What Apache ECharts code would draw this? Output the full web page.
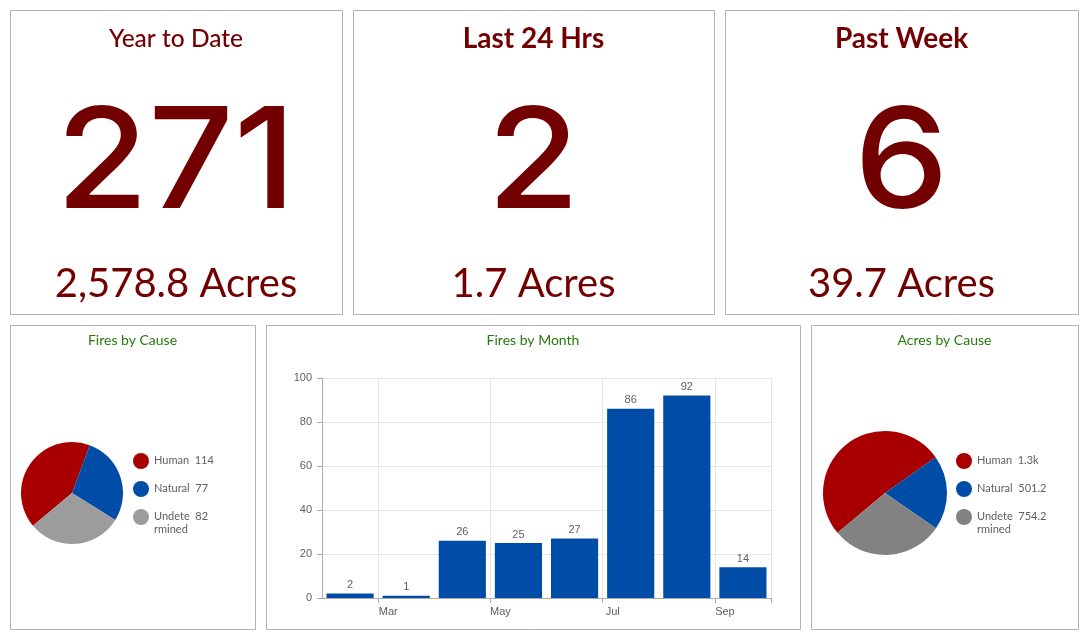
<!DOCTYPE html>
<html><head><meta charset="utf-8">
<script src="https://cdn.jsdelivr.net/npm/echarts@6/dist/echarts.min.js"></script>
<style>html,body{margin:0;padding:0;background:#fff;}#c{width:1088px;height:639px;}</style>
</head><body><div id="c"></div>
<script>
// ---- data ----
const kpiTitles = ['Year to Date', 'Last 24 Hrs', 'Past Week'];
const kpiFires = [271, 2, 6];
const kpiAcres = [2578.8, 1.7, 39.7];
const causeNames = ['Human', 'Natural', 'Undetermined'];
const firesByCause = [114, 77, 82];
const acresByCause = [1323.4, 501.2, 754.2];
const months = ['Feb', 'Mar', 'Apr', 'May', 'Jun', 'Jul', 'Aug', 'Sep'];
const firesByMonth = [2, 1, 26, 25, 27, 86, 92, 14];
const chartTitles = ['Fires by Cause', 'Fires by Month', 'Acres by Cause'];

// ---- styles / layout ----
const RED = '#730000', GREEN = '#267a0c';
const FONT = 'Lato, "Open Sans", sans-serif';
const NUMFONT = 'Inter, Lato, sans-serif';
const AXFONT = '"Liberation Sans", Arial, sans-serif';
const TXT = '#5e5e66';
const panels = [[10,10,332,304],[353,10,361,304],[725,10,353,304],[10,325,245,304],[266,325,534,304],[811,325,267,304]];
const leftColors = ['#a80000', '#004da8', '#9c9c9c'];
const rightColors = ['#a80000', '#004da8', '#828282'];
const kpiTitleSize = [24.5, 28, 28];
const kpiTitleWeight = [500, 700, 700];

const chart = echarts.init(document.getElementById('c'), null, {renderer: 'canvas'});

const graphics = [];
panels.forEach(p => graphics.push({type: 'rect', z: -10, silent: true,
  shape: {x: p[0] + 0.5, y: p[1] + 0.5, width: p[2], height: p[3]},
  style: {fill: '#fff', stroke: '#b4b4b4', lineWidth: 1}}));
for (let i = 0; i < 3; i++) {
  const p = panels[i];
  const cx = p[0] + p[2] / 2;
  graphics.push({type: 'text', silent: true, style: {text: kpiTitles[i], x: cx, y: 39, align: 'center', verticalAlign: 'middle',
    fill: RED, fontFamily: FONT, fontSize: kpiTitleSize[i], fontWeight: kpiTitleWeight[i]}});
  graphics.push({type: 'text', silent: true, x: cx, y: 166, scaleX: 1.07,
    style: {text: String(kpiFires[i]), x: 0, y: 0, align: 'center', verticalAlign: 'middle',
    fill: RED, fontFamily: NUMFONT, fontSize: 140, fontWeight: 500}});
  graphics.push({type: 'text', silent: true, style: {text: kpiAcres[i].toLocaleString('en-US', {minimumFractionDigits: 1, maximumFractionDigits: 1}) + ' Acres',
    x: cx, y: 284, align: 'center', verticalAlign: 'middle', fill: RED, fontFamily: FONT, fontSize: 40, fontWeight: 400}});
}

function wrapName(n) { return n.length > 8 ? [n.slice(0, 6), n.slice(6)] : [n, ' ']; }
function legendFor(values, colors, fmt, left) {
  return {
    orient: 'vertical', left: left, top: 453, padding: 0, itemWidth: 16, itemHeight: 16, itemGap: 2,
    icon: 'circle', selectedMode: false,
    data: causeNames.map((n, i) => ({name: n, itemStyle: {color: colors[i]}})),
    formatter: name => {
      const parts = wrapName(name);
      const v = fmt(values[causeNames.indexOf(name)]);
      return '{a|' + parts[0] + '  ' + v + '}\n{b|' + parts[1] + '}';
    },
    textStyle: {color: TXT, fontSize: 11, fontFamily: FONT,
      rich: {a: {lineHeight: 25, fontSize: 11, color: TXT, fontFamily: FONT},
             b: {lineHeight: 1, fontSize: 11, color: TXT, fontFamily: FONT}}}
  };
}
const fmtAcres = v => v >= 1000 ? (v / 1000).toFixed(1) + 'k' : v.toFixed(1);

const titleCenters = [3, 4, 5].map(i => panels[i][0] + panels[i][2] / 2);
const oddIdx = i => i % 2 === 1;

chart.setOption({
  animation: false,
  graphic: graphics,
  title: chartTitles.map((t, i) => ({text: t, left: titleCenters[i], top: 333, textAlign: 'center', padding: 0,
    textStyle: {color: GREEN, fontSize: 14, fontWeight: 400, fontFamily: FONT}})),
  legend: [legendFor(firesByCause, leftColors, v => String(v), 133), legendFor(acresByCause, rightColors, fmtAcres, 956)],
  grid: {left: 322, top: 378, width: 449, height: 220},
  xAxis: {type: 'category', data: months,
    axisLine: {lineStyle: {color: '#aaaaaa'}},
    axisTick: {show: true, interval: oddIdx, length: 5, lineStyle: {color: '#aaaaaa'}},
    splitLine: {show: true, interval: oddIdx, lineStyle: {color: '#e6e6e6'}},
    axisLabel: {interval: oddIdx, margin: 8, formatter: v => '{m|' + v + '}',
      rich: {m: {color: TXT, fontSize: 11, fontFamily: AXFONT, padding: [0, 36, 0, 0]}}}},
  yAxis: {type: 'value', min: 0, max: 100, interval: 20,
    axisLine: {show: true, lineStyle: {color: '#aaaaaa'}},
    axisTick: {show: true, length: 5, lineStyle: {color: '#aaaaaa'}},
    splitLine: {lineStyle: {color: '#e6e6e6'}},
    axisLabel: {color: TXT, fontSize: 11, fontFamily: AXFONT, margin: 10}},
  series: [
    {type: 'bar', name: 'Fires', data: firesByMonth, barCategoryGap: '16%', silent: true,
     itemStyle: {color: '#004da8'},
     label: {show: true, position: 'top', distance: 3, color: TXT, fontSize: 11, fontFamily: AXFONT}},
    {type: 'pie', name: 'Fires by Cause', center: [72, 493], radius: 51, startAngle: 220, silent: true,
     label: {show: false}, labelLine: {show: false},
     data: causeNames.map((n, i) => ({name: n, value: firesByCause[i], itemStyle: {color: leftColors[i]}}))},
    {type: 'pie', name: 'Acres by Cause', center: [885, 493], radius: 62, startAngle: 220, silent: true,
     label: {show: false}, labelLine: {show: false},
     data: causeNames.map((n, i) => ({name: n, value: acresByCause[i], itemStyle: {color: rightColors[i]}}))}
  ]
});
</script></body></html>
